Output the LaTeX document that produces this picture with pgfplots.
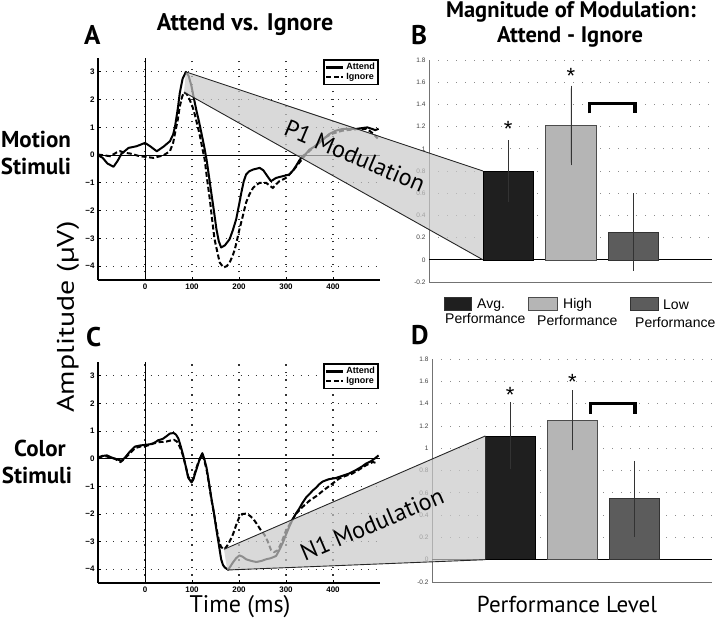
\documentclass[border=0pt]{standalone}
\usepackage{pgfplots}
\usepackage{pgfplotstable}
\pgfplotsset{compat=1.18}
\usepackage{fontspec}
\setmainfont{PT Sans}
\newfontfamily\helv{Liberation Sans}
\definecolor{bandgray}{gray}{0.79}
\definecolor{barblack}{gray}{0.12}
\definecolor{barlight}{gray}{0.71}
\definecolor{bardark}{gray}{0.36}

\pgfplotstableread{
t v
-100 0.0
-90 -0.1
-80 -0.3
-67 -0.42
-58 -0.2
-50 0.05
-35 0.26
-18 0.32
0 0.44
11 0.32
25 0.14
39 0.3
53 0.5
60 0.75
64 1.04
70 1.7
74 2.24
80 2.75
87 3.0
93 2.85
99 2.48
104 2.05
109 1.64
115 1.2
120 0.8
126 0.3
131 -0.16
136 -0.75
141 -1.35
147 -2.05
152 -2.67
157 -3.1
162 -3.33
170 -3.25
180 -3.03
187 -2.7
194 -2.31
200 -1.8
205 -1.35
210 -0.95
215 -0.7
222 -0.58
230 -0.52
244 -0.46
252 -0.55
258 -0.7
268 -0.94
279 -0.82
293 -0.76
307 -0.7
315 -0.55
321 -0.4
328 -0.2
335 -0.04
342 0.04
350 0.2
364 0.34
378 0.55
392 0.76
406 0.88
420 0.94
435 0.95
448 0.94
460 0.97
473 1.0
484 0.94
490 0.9
497 0.95
}\Aatt

\pgfplotstableread{
t v
-100 0.02
-90 0.0
-74 -0.04
-60 0.1
-53 0.14
-42 0.08
-32 0.06
-11 -0.04
0 -0.06
18 -0.1
39 -0.01
53 0.14
60 0.45
64 0.8
70 1.3
74 1.76
79 2.1
83 2.27
89 2.2
95 2.0
101 1.75
106 1.46
112 1.05
117 0.68
122 0.25
127 -0.16
132 -0.85
138 -1.6
143 -2.35
148 -3.03
154 -3.5
159 -3.87
167 -4.05
174 -4.0
180 -3.87
186 -3.65
191 -3.4
196 -3.05
201 -2.67
208 -2.2
215 -1.71
222 -1.42
230 -1.18
237 -1.07
244 -1.0
258 -1.0
265 -1.1
272 -1.18
279 -1.05
286 -0.94
300 -0.82
314 -0.58
328 -0.28
339 -0.04
350 0.15
360 0.3
370 0.45
380 0.6
390 0.7
400 0.78
420 0.88
440 0.92
460 0.95
470 0.95
480 0.85
488 0.72
495 0.6
}\Aign

\pgfplotstableread{
t v
-100 0.0
-90 0.1
-81 0.12
-72 0.05
-64 0.0
-55 -0.05
-49 -0.07
-42 0.05
-35 0.2
-28 0.33
-21 0.44
-10 0.48
0 0.5
10 0.52
18 0.56
24 0.62
28 0.67
35 0.7
39 0.73
47 0.83
53 0.91
61 0.93
66 0.87
71 0.73
76 0.45
81 0.14
87 -0.3
92 -0.69
99 -0.86
103 -0.75
106 -0.57
112 -0.25
117 0.02
122 0.2
126 0.0
131 -0.33
136 -0.85
141 -1.4
147 -2.0
152 -2.58
157 -3.1
162 -3.64
166 -3.85
170 -3.94
177 -4.02
187 -3.76
194 -3.6
201 -3.5
208 -3.55
215 -3.64
226 -3.7
237 -3.74
248 -3.7
258 -3.64
268 -3.6
279 -3.52
286 -3.3
293 -3.05
300 -2.75
307 -2.46
314 -2.2
321 -1.99
328 -1.81
335 -1.6
343 -1.4
350 -1.28
357 -1.15
364 -1.05
371 -0.92
378 -0.83
385 -0.78
392 -0.74
406 -0.7
420 -0.62
434 -0.54
448 -0.42
462 -0.28
470 -0.18
480 -0.1
490 0.02
497 0.12
}\Catt

\pgfplotstableread{
t v
-100 0.05
-90 0.1
-81 0.08
-72 0.02
-64 0.0
-57 -0.08
-52 -0.12
-45 -0.02
-35 0.15
-21 0.38
-10 0.44
0 0.45
10 0.5
18 0.55
30 0.6
45 0.62
55 0.66
62 0.68
68 0.62
72 0.5
76 0.35
81 0.1
87 -0.3
92 -0.65
99 -0.82
103 -0.7
106 -0.52
112 -0.2
117 0.0
122 0.15
126 -0.05
131 -0.4
136 -0.9
141 -1.45
147 -2.0
152 -2.5
157 -2.95
162 -3.2
169 -3.28
177 -3.1
187 -2.75
194 -2.4
201 -2.1
208 -2.0
215 -1.99
222 -2.05
230 -2.17
237 -2.34
247 -2.6
254 -2.75
261 -2.99
268 -3.3
275 -3.38
282 -3.32
290 -3.05
300 -2.6
307 -2.4
314 -2.2
321 -2.0
335 -1.75
350 -1.52
365 -1.35
378 -1.17
395 -0.95
413 -0.72
427 -0.62
441 -0.54
455 -0.4
470 -0.24
485 -0.12
494 -0.17
}\Cign

\pgfplotsset{
  erp/.style={
    scale only axis, width=282pt,
    xmin=-100, xmax=500, ymin=-4.5, ymax=3.5,
    axis x line*=bottom, axis y line*=left,
    axis line style={-, line width=1.8pt, black},
    tick pos=left, tick align=inside,
    xtick={0,100,200,300,400}, xticklabels={0,100,200,300,400},
    ytick={-4,-3,-2,-1,0,1,2,3}, yticklabels={−4,−3,−2,−1,0,1,2,3},
    tick label style={font=\helv\bfseries\fontsize{8}{9}\selectfont},
    major tick length=3pt, tick style={black, line width=0.8pt},
    grid=major, major grid style={black!80, line width=1.1pt, dash pattern=on 1.2pt off 6.3pt},
    legend style={at={(0.993,0.99)}, anchor=north east, draw=black, line width=1.6pt, fill=white,
      font=\helv\bfseries\fontsize{9}{10}\selectfont, inner sep=1.2pt, outer sep=0pt, row sep=-2pt},
    legend cell align=left,
    legend image code/.code={\draw[##1, line width=2.3pt] (0pt,0pt) -- (17pt,0pt);},
  },
  attend/.style={black, line width=2pt, line join=round},
  ignore/.style={black, line width=2pt, dash pattern=on 5pt off 2.6pt},
  barax/.style={
    scale only axis,
    xmin=-0.26, xmax=4.25, ymin=-0.2, ymax=1.8,
    axis x line*=bottom, axis y line*=left,
    axis line style={-, line width=0.6pt, black!55},
    xtick=\empty,
    ytick={-0.2,0,0.2,0.4,0.6,0.8,1,1.2,1.4,1.6,1.8},
    yticklabels={-0.2,0,0.2,0.4,0.6,0.8,1,1.2,1.4,1.6,1.8},
    yticklabel style={font=\helv\fontsize{6.5}{7}\selectfont, text=black!75},
    major tick length=0pt, tick pos=left,
    ymajorgrids, major grid style={black!45, line width=0.7pt, dash pattern=on 0.7pt off 8.3pt},
    clip=false,
  },
  ebar/.style={ybar, bar width=0.8, bar shift=0pt, line width=0.5pt,
    error bars/.cd, y dir=both, y explicit, error mark=-,
    error bar style={black!80, line width=0.6pt},
    error mark options={black!80, line width=0.6pt, mark size=2.8pt}},
}

\begin{document}
\begin{tikzpicture}[x=1pt,y=1pt]
\useasboundingbox (0pt,0pt) rectangle (720pt,619pt);

% Panel A
\begin{axis}[erp, at={(98pt,339pt)}, anchor=south west, height=222pt]
  \draw[black, line width=0.6pt] (axis cs:-100,0) -- (axis cs:500,0);
  \draw[black, line width=0.6pt] (axis cs:0,-4.5) -- (axis cs:0,3.5);
  \addplot[attend] table[x=t,y=v]{\Aatt}; \addlegendentry{Attend}
  \addplot[ignore] table[x=t,y=v]{\Aign}; \addlegendentry{Ignore}
  \coordinate (A1) at (axis cs:87,3.0);
  \coordinate (A2) at (axis cs:83,2.27);
\end{axis}

% Panel C
\begin{axis}[erp, at={(98pt,36pt)}, anchor=south west, height=221pt]
  \draw[black, line width=0.6pt] (axis cs:-100,0) -- (axis cs:500,0);
  \draw[black, line width=0.6pt] (axis cs:0,-4.5) -- (axis cs:0,3.5);
  \addplot[attend] table[x=t,y=v]{\Catt}; \addlegendentry{Attend}
  \addplot[ignore] table[x=t,y=v]{\Cign}; \addlegendentry{Ignore}
  \coordinate (C1) at (axis cs:168,-3.28);
  \coordinate (C2) at (axis cs:175,-4.03);
\end{axis}

% Panel B
\begin{axis}[barax, at={(429pt,337pt)}, anchor=south west, width=283pt, height=222pt]
  \draw[black, line width=0.8pt] (axis cs:-0.26,0) -- (axis cs:4.25,0);
  \addplot[fill=barblack, draw=black, ebar] coordinates {(1,0.80) +- (0,0.25)};
  \addplot[fill=barlight, draw=black!70, ebar] coordinates {(2,1.21) +- (0,0.335)};
  \addplot[fill=bardark, draw=black!80, ebar] coordinates {(3,0.25) +- (0,0.325)};
  \node[font=\helv\fontsize{22}{22}\selectfont, anchor=base, yshift=-12.5pt, inner sep=0pt] at (axis cs:1,1.22) {*};
  \node[font=\helv\fontsize{22}{22}\selectfont, anchor=base, yshift=-12.5pt, inner sep=0pt] at (axis cs:2,1.70) {*};
  \draw[line width=3.5pt, line join=miter] (axis cs:2.30,1.32) -- (axis cs:2.30,1.41) -- (axis cs:3.02,1.41) -- (axis cs:3.02,1.32);
  \coordinate (B1) at (axis cs:0.6,0.8);
  \coordinate (B0) at (axis cs:0.6,0);
\end{axis}

% Panel D
\begin{axis}[barax, at={(432pt,37pt)}, anchor=south west, width=280pt, height=223pt]
  \draw[black, line width=0.8pt] (axis cs:-0.26,0) -- (axis cs:4.25,0);
  \addplot[fill=barblack, draw=black, ebar] coordinates {(1,1.11) +- (0,0.275)};
  \addplot[fill=barlight, draw=black!70, ebar] coordinates {(2,1.25) +- (0,0.245)};
  \addplot[fill=bardark, draw=black!80, ebar] coordinates {(3,0.547) +- (0,0.315)};
  \node[font=\helv\fontsize{22}{22}\selectfont, anchor=base, yshift=-12.5pt, inner sep=0pt] at (axis cs:1,1.52) {*};
  \node[font=\helv\fontsize{22}{22}\selectfont, anchor=base, yshift=-12.5pt, inner sep=0pt] at (axis cs:2,1.64) {*};
  \draw[line width=3.5pt, line join=miter] (axis cs:2.29,1.31) -- (axis cs:2.29,1.40) -- (axis cs:3.01,1.40) -- (axis cs:3.01,1.31);
  \coordinate (D1) at (axis cs:0.6,1.11);
  \coordinate (D0) at (axis cs:0.6,0);
\end{axis}

% modulation bands
\fill[bandgray, opacity=0.7] (A1) -- (B1) -- (B0) -- (A2) -- cycle;
\draw[black!85, line width=0.9pt] (A1) -- (B1);
\draw[black!85, line width=0.9pt] (A2) -- (B0);
\fill[bandgray, opacity=0.7] (C1) -- (D1) -- (D0) -- (C2) -- cycle;
\draw[black!85, line width=0.9pt] (C1) -- (D1);
\draw[black!85, line width=0.9pt] (C2) -- (D0);
\node[font=\fontsize{24}{24}\selectfont, rotate=-23] at (355pt,463pt) {P1 Modulation};
\node[font=\fontsize{24}{24}\selectfont, rotate=23] at (372pt,95pt) {N1 Modulation};

% bar legend
\begin{scope}[every node/.style={anchor=base west, inner sep=0pt, font=\helv\fontsize{14}{14}\selectfont}]
  \filldraw[fill=barblack, draw=black!80, line width=0.4pt] (444pt,309pt) rectangle (471pt,322pt);
  \node at (477pt,310.7pt) {Avg.};
  \node at (445pt,295pt) {Performance};
  \filldraw[fill=barlight, draw=black!70, line width=0.4pt] (528pt,309pt) rectangle (557pt,322pt);
  \node at (563pt,310.7pt) {High};
  \node at (537pt,293pt) {Performance};
  \filldraw[fill=bardark, draw=black!80, line width=0.4pt] (630pt,309pt) rectangle (658pt,322pt);
  \node at (663pt,309.5pt) {Low};
  \node at (635pt,291pt) {Performance};
\end{scope}

% titles and labels
\node[font=\bfseries\fontsize{24}{24}\selectfont, anchor=base] at (245pt,588pt) {Attend vs. Ignore};
\node[font=\bfseries\fontsize{22.5}{24}\selectfont, anchor=base] at (571pt,601pt) {Magnitude of Modulation:};
\node[font=\bfseries\fontsize{22.5}{24}\selectfont, anchor=base] at (570pt,576pt) {Attend - Ignore};
\node[font=\bfseries\fontsize{27}{28}\selectfont, anchor=base west, inner sep=0pt] at (84pt,574pt) {A};
\node[font=\bfseries\fontsize{27}{28}\selectfont, anchor=base west, inner sep=0pt] at (411pt,574pt) {B};
\node[font=\bfseries\fontsize{27}{28}\selectfont, anchor=base west, inner sep=0pt] at (86pt,272pt) {C};
\node[font=\bfseries\fontsize{27}{28}\selectfont, anchor=base west, inner sep=0pt] at (411pt,274pt) {D};
\node[font=\bfseries\fontsize{23}{24}\selectfont, anchor=base] at (36pt,471pt) {Motion};
\node[font=\bfseries\fontsize{23}{24}\selectfont, anchor=base] at (36pt,444pt) {Stimuli};
\node[font=\bfseries\fontsize{23}{24}\selectfont, anchor=base] at (40pt,163pt) {Color};
\node[font=\bfseries\fontsize{23}{24}\selectfont, anchor=base] at (37pt,136pt) {Stimuli};
\node[font=\fontsize{24}{24}\selectfont, rotate=90] at (68pt,302pt) {\scalebox{1.25}[1]{Amplitude (µV)}};
\node[font=\fontsize{24}{24}\selectfont, anchor=base] at (240pt,7pt) {Time (ms)};
\node[font=\fontsize{23}{24}\selectfont, anchor=base] at (567pt,7pt) {Performance Level};
\end{tikzpicture}
\end{document}
